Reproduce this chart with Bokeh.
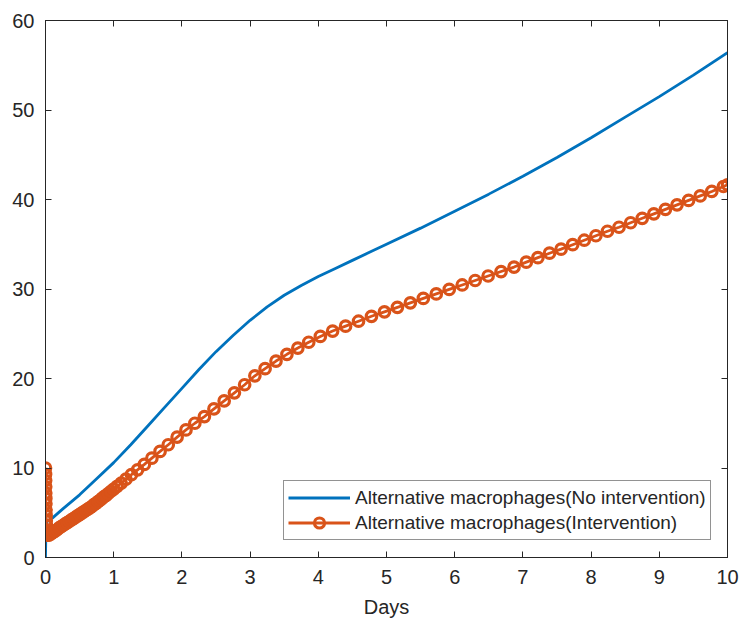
from bokeh.plotting import figure
from bokeh.models import Range1d, FixedTicker, LinearAxis, Legend, LegendItem
from bokeh.embed import file_html
from bokeh.resources import INLINE

# Alternative macrophages, no intervention (solid blue line)
days_none = [0, 0.005, 0.02, 0.1, 0.25, 0.5, 0.75, 1.0, 1.25, 1.5, 1.75, 2.0,
             2.25, 2.5, 2.75, 3.0, 3.25, 3.5, 3.75, 4.0, 4.25, 4.5, 4.75, 5.0,
             5.5, 6.0, 6.5, 7.0, 7.5, 8.0, 8.5, 9.0, 9.5, 10.0]
macro_none = [0, 2.5, 4.0, 4.4, 5.4, 7.0, 8.8, 10.6, 12.6, 14.7, 16.8, 18.9,
              21.0, 23.0, 24.8, 26.5, 28.0, 29.3, 30.4, 31.4, 32.3, 33.2, 34.1, 35.0,
              36.8, 38.7, 40.6, 42.6, 44.7, 46.9, 49.2, 51.5, 53.9, 56.4]

# Alternative macrophages, with intervention (solver output points, circle markers)
days_int = [0, 0.001, 0.002, 0.003, 0.004, 0.005, 0.006, 0.0075, 0.009, 0.011,
            0.013, 0.016, 0.02, 0.025, 0.03, 0.05, 0.08, 0.11, 0.14, 0.17,
            0.20, 0.23, 0.26, 0.29, 0.32, 0.35, 0.38, 0.41, 0.44, 0.47,
            0.50, 0.53, 0.56, 0.59, 0.62, 0.65, 0.68, 0.71, 0.74, 0.77,
            0.80, 0.83, 0.86, 0.89, 0.92, 0.96, 1.00, 1.05, 1.11, 1.18,
            1.26, 1.35, 1.45, 1.56, 1.68, 1.80, 1.93, 2.06, 2.19, 2.33,
            2.47, 2.62, 2.77, 2.92, 3.07, 3.22, 3.38, 3.54, 3.70, 3.86,
            4.03, 4.21, 4.40, 4.59, 4.78, 4.97, 5.16, 5.35, 5.54, 5.73,
            5.92, 6.11, 6.30, 6.49, 6.68, 6.87, 7.05, 7.22, 7.39, 7.56,
            7.73, 7.90, 8.07, 8.24, 8.41, 8.58, 8.75, 8.92, 9.09, 9.26,
            9.43, 9.60, 9.77, 9.94, 10.00]
macro_int = [10.0, 9.3, 8.6, 7.9, 7.2, 6.6, 6.0, 5.3, 4.7, 4.1,
             3.6, 3.1, 2.8, 2.6, 2.5, 2.5, 2.65, 2.8, 2.95, 3.1,
             3.3, 3.45, 3.6, 3.75, 3.9, 4.05, 4.2, 4.35, 4.5, 4.65,
             4.8, 4.95, 5.1, 5.25, 5.4, 5.55, 5.7, 5.9, 6.05, 6.25,
             6.4, 6.6, 6.8, 6.95, 7.15, 7.4, 7.65, 7.95, 8.3, 8.75,
             9.25, 9.8, 10.4, 11.1, 11.85, 12.6, 13.45, 14.25, 15.0, 15.75,
             16.6, 17.5, 18.4, 19.3, 20.3, 21.1, 21.95, 22.7, 23.4, 24.05,
             24.7, 25.3, 25.85, 26.4, 26.95, 27.45, 27.95, 28.45, 28.95, 29.45,
             29.95, 30.45, 30.95, 31.45, 31.95, 32.45, 33.0, 33.5, 34.0, 34.45,
             34.95, 35.45, 35.95, 36.45, 36.9, 37.4, 37.9, 38.4, 38.9, 39.4,
             39.9, 40.4, 40.9, 41.45, 41.65]

x_ticks = [0, 1, 2, 3, 4, 5, 6, 7, 8, 9, 10]
y_ticks = [0, 10, 20, 30, 40, 50, 60]

BLUE = "#0072BD"
ORANGE = "#D95319"
INK = "#262626"
FONT = "Liberation Sans"

p = figure(width=743, height=625, output_backend="svg", toolbar_location=None,
           x_range=Range1d(0, 10), y_range=Range1d(0, 60),
           min_border_left=45, min_border_right=16, min_border_top=20,
           min_border_bottom=68)
p.grid.visible = False
p.background_fill_color = "white"
p.border_fill_color = "white"
p.outline_line_color = INK
p.outline_line_width = 1


def style_axis(ax, ticks, show_labels, standoff):
    ax.ticker = FixedTicker(ticks=ticks)
    ax.major_tick_in = 6
    ax.major_tick_out = 0
    ax.minor_tick_in = 0
    ax.minor_tick_out = 0
    ax.axis_line_color = INK
    ax.major_tick_line_color = INK
    ax.major_label_text_font = FONT
    ax.major_label_text_color = INK
    ax.major_label_standoff = standoff
    if show_labels:
        ax.major_label_text_font_size = "20px"
    else:
        ax.major_label_text_font_size = "0px"
        ax.major_label_text_alpha = 0


style_axis(p.xaxis[0], x_ticks, True, 12)
style_axis(p.yaxis[0], y_ticks, True, 11)
p.xaxis[0].axis_label = "Days"
p.xaxis[0].axis_label_text_font = FONT
p.xaxis[0].axis_label_text_font_size = "20px"
p.xaxis[0].axis_label_text_font_style = "normal"
p.xaxis[0].axis_label_text_color = INK
p.xaxis[0].axis_label_standoff = 9

top_axis = LinearAxis()
style_axis(top_axis, x_ticks, False, 0)
p.add_layout(top_axis, "above")
right_axis = LinearAxis()
style_axis(right_axis, y_ticks, False, 0)
p.add_layout(right_axis, "right")

r_none = p.line(days_none, macro_none, line_color=BLUE, line_width=2.8)
r_int_line = p.line(days_int, macro_int, line_color=ORANGE, line_width=2.8)
r_int_pts = p.scatter(days_int, macro_int, marker="circle", size=10.5,
                      fill_color=None, line_color=ORANGE, line_width=3.2)

legend = Legend(items=[
    LegendItem(label="Alternative macrophages(No intervention)", renderers=[r_none]),
    LegendItem(label="Alternative macrophages(Intervention)",
               renderers=[r_int_line, r_int_pts]),
], location=(238, 17))
legend.label_text_font = FONT
legend.label_text_font_size = "19px"
legend.label_text_color = INK
legend.glyph_width = 62
legend.glyph_height = 25
legend.label_standoff = 5
legend.spacing = 0
legend.padding = 4
legend.margin = 0
legend.border_line_color = INK
legend.border_line_width = 1
legend.background_fill_color = "white"
legend.background_fill_alpha = 1
p.add_layout(legend, "center")

open("out.html", "w").write(file_html(p, INLINE))
